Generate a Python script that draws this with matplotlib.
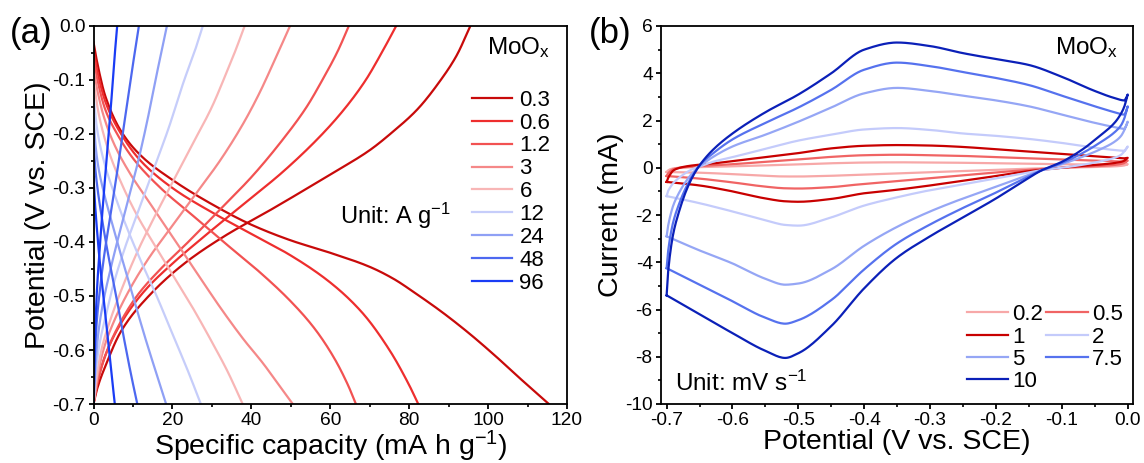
import numpy as np
import matplotlib
matplotlib.use("Agg")
import matplotlib.pyplot as plt
from matplotlib.ticker import MultipleLocator, FormatStrFormatter

plt.rcParams["font.family"] = ["Liberation Sans", "DejaVu Sans"]
plt.rcParams["mathtext.fontset"] = "custom"
plt.rcParams["mathtext.rm"] = "Liberation Sans"
plt.rcParams["mathtext.it"] = "Liberation Sans:italic"
plt.rcParams["axes.unicode_minus"] = False

# ---------------- (a) galvanostatic charge / discharge ----------------
gcd_rates = ["0.3", "0.6", "1.2", "3", "6", "12", "24", "48", "96"]
gcd_colors = ["#c80a0a", "#ee2e2e", "#f25252", "#f58888", "#f8b6b6",
              "#c6cdfa", "#8fa0f5", "#4d68f0", "#1a3cf5"]

# charge branches: capacity (mA h g-1) and potential (V vs. SCE)
chg_cap = [
    [0, 1, 3, 7, 14, 23, 33, 45, 52, 60, 70, 76, 82, 88, 92, 95.5],
    [0, 1, 3, 7, 13, 20, 28, 38, 48, 58, 64, 69, 73, 76.7],
    [0, 1, 3, 6, 11, 17, 24, 32, 40, 48, 54, 58, 62, 64.7],
    [0, 1, 2.5, 5, 9, 14, 20, 26, 32, 38, 42, 45.5, 49.8],
    [0, 0.8, 2, 4, 7, 11, 15, 20, 25, 30, 33.5, 36, 38.3],
    [0, 0.6, 1.5, 3, 5, 8, 11, 15, 19, 23, 25.5, 27.7],
    [0, 0.5, 1.2, 2.5, 4, 6, 8.5, 11, 13.5, 16, 18.6],
    [0, 0.3, 0.8, 1.6, 2.8, 4.3, 6, 7.8, 9.6, 11.5],
    [0, 0.3, 0.8, 1.5, 2.4, 3.4, 4.4, 5.2, 6.0],
]
chg_pot = [
    [-0.70, -0.67, -0.63, -0.565, -0.50, -0.44, -0.39, -0.34, -0.31, -0.275, -0.23, -0.195, -0.155, -0.10, -0.055, 0.0],
    [-0.70, -0.66, -0.61, -0.55, -0.49, -0.44, -0.39, -0.33, -0.27, -0.20, -0.15, -0.10, -0.05, 0.0],
    [-0.70, -0.66, -0.61, -0.56, -0.50, -0.45, -0.40, -0.34, -0.28, -0.21, -0.15, -0.10, -0.045, 0.0],
    [-0.70, -0.65, -0.60, -0.55, -0.49, -0.43, -0.37, -0.31, -0.25, -0.18, -0.125, -0.07, 0.0],
    [-0.70, -0.65, -0.60, -0.55, -0.49, -0.42, -0.36, -0.29, -0.22, -0.15, -0.09, -0.045, 0.0],
    [-0.70, -0.64, -0.59, -0.54, -0.48, -0.41, -0.35, -0.27, -0.19, -0.10, -0.05, 0.0],
    [-0.70, -0.63, -0.57, -0.51, -0.46, -0.40, -0.33, -0.26, -0.18, -0.09, 0.0],
    [-0.70, -0.62, -0.55, -0.49, -0.42, -0.35, -0.27, -0.18, -0.09, 0.0],
    [-0.70, -0.60, -0.50, -0.42, -0.33, -0.24, -0.15, -0.07, 0.0],
]

# discharge branches
dis_cap = [
    [0, 1, 3, 7, 12, 20, 30, 40, 50, 60, 70, 76, 82, 88, 95, 102, 108, 115.4],
    [0, 1, 3, 7, 12, 20, 30, 40, 50, 60, 68, 75, 80, 82.3],
    [0, 1, 3, 6, 10, 17, 25, 33, 42, 50, 56, 61, 64.5, 66.5],
    [0, 1, 2.5, 5, 9, 14, 20, 26, 32, 38, 43, 47, 50.5],
    [0, 1, 2, 4, 7, 11, 15, 20, 25, 30, 34, 37.8],
    [0, 0.7, 1.5, 3, 5, 8, 12, 16, 20, 24, 27.2],
    [0, 0.5, 1.2, 2.5, 4.5, 7, 10, 13, 16, 18.4],
    [0, 0.4, 1, 2, 3.5, 5.5, 7.5, 9.5, 11.1],
    [0, 0.3, 0.8, 1.5, 2.5, 3.5, 4.5, 5.4],
]
dis_pot = [
    [-0.03, -0.07, -0.13, -0.195, -0.24, -0.285, -0.33, -0.368, -0.397, -0.42, -0.446, -0.468, -0.497, -0.528, -0.568, -0.612, -0.652, -0.70],
    [-0.045, -0.085, -0.14, -0.20, -0.25, -0.30, -0.345, -0.385, -0.425, -0.475, -0.53, -0.60, -0.665, -0.70],
    [-0.06, -0.10, -0.155, -0.20, -0.245, -0.30, -0.35, -0.40, -0.455, -0.51, -0.56, -0.615, -0.665, -0.70],
    [-0.08, -0.12, -0.165, -0.215, -0.27, -0.325, -0.39, -0.455, -0.52, -0.58, -0.625, -0.665, -0.70],
    [-0.10, -0.15, -0.185, -0.235, -0.29, -0.35, -0.40, -0.46, -0.52, -0.585, -0.64, -0.70],
    [-0.13, -0.18, -0.215, -0.26, -0.305, -0.365, -0.435, -0.50, -0.57, -0.64, -0.70],
    [-0.17, -0.22, -0.26, -0.305, -0.36, -0.425, -0.50, -0.575, -0.645, -0.70],
    [-0.22, -0.26, -0.30, -0.35, -0.415, -0.49, -0.57, -0.645, -0.70],
    [-0.28, -0.32, -0.37, -0.43, -0.50, -0.57, -0.64, -0.70],
]

# ---------------- (b) cyclic voltammetry ----------------
cv_rates = ["0.2", "0.5", "1", "2", "5", "7.5", "10"]
cv_colors = ["#f7a8a8", "#f06464", "#c80000", "#c4cbfb",
             "#95a6f5", "#5672ee", "#0b20b8"]

cv_e_up = [-0.700, -0.698, -0.695, -0.690, -0.680, -0.670, -0.660, -0.650,
           -0.630, -0.600, -0.550, -0.500, -0.450, -0.400, -0.350, -0.300,
           -0.250, -0.200, -0.150, -0.100, -0.050, -0.020, -0.005, 0.000]
cv_e_down = [0.000, -0.005, -0.010, -0.020, -0.040, -0.070, -0.100, -0.130,
             -0.160, -0.200, -0.250, -0.300, -0.350, -0.400, -0.450, -0.500,
             -0.520, -0.550, -0.600, -0.650, -0.700]

# anodic (forward) currents, mA
cv_i_up = [
    [-0.18, -0.12, -0.07, -0.03, 0.0, 0.01, 0.02, 0.03, 0.04, 0.06, 0.10, 0.14,
     0.19, 0.22, 0.23, 0.22, 0.21, 0.19, 0.17, 0.15, 0.13, 0.12, 0.12, 0.15],
    [-0.35, -0.25, -0.16, -0.06, 0.0, 0.03, 0.05, 0.07, 0.10, 0.15, 0.25, 0.35,
     0.46, 0.53, 0.55, 0.53, 0.50, 0.45, 0.40, 0.35, 0.30, 0.27, 0.26, 0.30],
    [-0.60, -0.45, -0.30, -0.12, 0.0, 0.06, 0.10, 0.13, 0.18, 0.28, 0.45, 0.62,
     0.82, 0.93, 0.96, 0.94, 0.88, 0.78, 0.68, 0.58, 0.48, 0.42, 0.40, 0.42],
    [-1.20, -1.00, -0.85, -0.65, -0.40, -0.20, -0.05, 0.05, 0.25, 0.45, 0.80, 1.15,
     1.40, 1.62, 1.68, 1.60, 1.45, 1.35, 1.22, 1.05, 0.85, 0.75, 0.72, 0.90],
    [-2.90, -2.50, -2.10, -1.60, -1.00, -0.55, -0.20, 0.05, 0.45, 0.90, 1.40, 1.95,
     2.55, 3.15, 3.38, 3.25, 3.05, 2.85, 2.60, 2.25, 1.90, 1.72, 1.65, 1.95],
    [-4.25, -3.60, -3.00, -2.30, -1.45, -0.80, -0.30, 0.10, 0.60, 1.20, 1.90, 2.55,
     3.30, 4.15, 4.45, 4.30, 4.05, 3.80, 3.50, 3.05, 2.60, 2.35, 2.25, 2.60],
    [-5.40, -4.50, -3.70, -2.80, -1.75, -0.95, -0.35, 0.10, 0.75, 1.45, 2.35, 3.10,
     4.00, 5.00, 5.30, 5.15, 4.85, 4.60, 4.35, 3.85, 3.25, 2.95, 2.85, 3.10],
]
# cathodic (reverse) currents, mA
cv_i_down = [
    [0.15, 0.10, 0.08, 0.06, 0.04, 0.02, 0.0, -0.02, -0.05, -0.09, -0.14, -0.19,
     -0.24, -0.29, -0.34, -0.37, -0.37, -0.34, -0.27, -0.21, -0.18],
    [0.30, 0.20, 0.16, 0.12, 0.08, 0.04, 0.0, -0.05, -0.11, -0.20, -0.32, -0.44,
     -0.56, -0.68, -0.82, -0.88, -0.87, -0.80, -0.62, -0.46, -0.35],
    [0.42, 0.30, 0.25, 0.20, 0.14, 0.08, 0.0, -0.08, -0.18, -0.35, -0.55, -0.75,
     -0.93, -1.08, -1.32, -1.44, -1.42, -1.30, -1.00, -0.75, -0.60],
    [0.90, 0.70, 0.55, 0.42, 0.28, 0.12, 0.0, -0.10, -0.25, -0.45, -0.70, -0.95,
     -1.25, -1.60, -2.10, -2.45, -2.42, -2.22, -1.85, -1.50, -1.20],
    [1.95, 1.60, 1.35, 1.10, 0.80, 0.45, 0.15, -0.10, -0.40, -0.80, -1.30, -1.85,
     -2.50, -3.30, -4.30, -4.90, -4.95, -4.70, -4.05, -3.50, -2.90],
    [2.60, 2.10, 1.80, 1.50, 1.10, 0.60, 0.20, -0.10, -0.50, -1.05, -1.70, -2.40,
     -3.20, -4.30, -5.60, -6.45, -6.60, -6.35, -5.65, -4.95, -4.25],
    [3.10, 2.60, 2.30, 1.90, 1.40, 0.75, 0.25, -0.10, -0.60, -1.30, -2.10, -2.90,
     -3.80, -5.10, -6.70, -7.85, -8.05, -7.75, -7.00, -6.20, -5.40],
]


def pchip(x, y, xs):
    """Shape-preserving piecewise cubic through (x, y), x increasing."""
    x = np.asarray(x, float)
    y = np.asarray(y, float)
    h = np.diff(x)
    d = np.diff(y) / h
    m = np.zeros_like(y)
    m[0], m[-1] = d[0], d[-1]
    for k in range(1, len(x) - 1):
        if d[k - 1] * d[k] > 0:
            w1 = 2 * h[k] + h[k - 1]
            w2 = h[k] + 2 * h[k - 1]
            m[k] = (w1 + w2) / (w1 / d[k - 1] + w2 / d[k])
    idx = np.clip(np.searchsorted(x, xs) - 1, 0, len(x) - 2)
    t = (xs - x[idx]) / h[idx]
    h00 = 2 * t**3 - 3 * t**2 + 1
    h10 = t**3 - 2 * t**2 + t
    h01 = -2 * t**3 + 3 * t**2
    h11 = t**3 - t**2
    return (h00 * y[idx] + h10 * h[idx] * m[idx]
            + h01 * y[idx + 1] + h11 * h[idx] * m[idx + 1])


def smooth(x, y, n=300):
    x = np.asarray(x, float)
    y = np.asarray(y, float)
    if x[0] > x[-1]:
        x, y = x[::-1], y[::-1]
        xs = np.linspace(x[0], x[-1], n)
        return xs[::-1], pchip(x, y, xs)[::-1]
    xs = np.linspace(x[0], x[-1], n)
    return xs, pchip(x, y, xs)


fig = plt.figure(figsize=(11.44, 4.63), dpi=100)
W, H = 1144.0, 463.0
axA = fig.add_axes([93.5 / W, 1 - 404 / H, (567 - 93.5) / W, 378 / H])
axB = fig.add_axes([660.7 / W, 1 - 404 / H, (1133.3 - 660.7) / W, 378 / H])

LW = 1.6
TICK_FS = 13.8
LABEL_FS = 20.5

# ---- panel (a)
handles_a = []
for i, rate in enumerate(gcd_rates):
    cx, cy = smooth(chg_cap[i], chg_pot[i])
    dx, dy = smooth(dis_cap[i], dis_pot[i])
    axA.plot(cx, cy, color=gcd_colors[i], lw=LW)
    ln, = axA.plot(dx, dy, color=gcd_colors[i], lw=LW, label=rate)
    handles_a.append(ln)

axA.set_xlim(0, 120)
axA.set_ylim(-0.7, 0.0)
axA.xaxis.set_major_locator(MultipleLocator(20))
axA.xaxis.set_minor_locator(MultipleLocator(10))
axA.yaxis.set_major_locator(MultipleLocator(0.1))
axA.yaxis.set_minor_locator(MultipleLocator(0.05))
axA.xaxis.set_major_formatter(FormatStrFormatter("%d"))
axA.yaxis.set_major_formatter(FormatStrFormatter("%.1f"))
axA.set_xlabel("Specific capacity (mA h g$^{\\mathregular{-1}}$)",
               fontsize=LABEL_FS, labelpad=0)
axA.set_ylabel("Potential (V vs. SCE)", fontsize=LABEL_FS, labelpad=1)

axA.legend(handles=handles_a, loc="upper left", bbox_to_anchor=(0.7987, 0.8315),
           frameon=False, fontsize=16, handlelength=1.8, handletextpad=0.35,
           labelspacing=0.085, borderpad=0, borderaxespad=0)
axA.text(0.964, 0.942, "MoO$_{\\mathregular{x}}$", transform=axA.transAxes,
         ha="right", va="center", fontsize=17.5)
axA.text(0.5206, 0.497, "Unit: A g$^{\\mathregular{-1}}$", transform=axA.transAxes,
         ha="left", va="center", fontsize=17)

# ---- panel (b)
handles_b = []
for i, rate in enumerate(cv_rates):
    ux, uy = smooth(cv_e_up, cv_i_up[i])
    lx, ly = smooth(cv_e_down, cv_i_down[i])
    ex = np.concatenate([ux, lx])
    iy = np.concatenate([uy, ly])
    ln, = axB.plot(ex, iy, color=cv_colors[i], lw=LW, label=rate)
    handles_b.append(ln)

axB.set_xlim(-0.709, 0.0085)
axB.set_ylim(-10, 6)
axB.xaxis.set_major_locator(MultipleLocator(0.1))
axB.xaxis.set_minor_locator(MultipleLocator(0.05))
axB.yaxis.set_major_locator(MultipleLocator(2))
axB.yaxis.set_minor_locator(MultipleLocator(1))
axB.xaxis.set_major_formatter(FormatStrFormatter("%.1f"))
axB.yaxis.set_major_formatter(FormatStrFormatter("%d"))
axB.set_xlabel("Potential (V vs. SCE)", fontsize=LABEL_FS, labelpad=0)
axB.set_ylabel("Current (mA)", fontsize=LABEL_FS, labelpad=1)

# legend filled row by row: 0.2 0.5 / 1 2 / 5 7.5 / 10
order = [0, 2, 4, 6, 1, 3, 5]
axB.legend(handles=[handles_b[k] for k in order], loc="upper left", ncol=2,
           bbox_to_anchor=(0.6475, 0.264), frameon=False, fontsize=16,
           handlelength=1.85, handletextpad=0.2, columnspacing=0.15,
           labelspacing=0.06, borderpad=0, borderaxespad=0)
axB.text(0.9676, 0.942, "MoO$_{\\mathregular{x}}$", transform=axB.transAxes,
         ha="right", va="center", fontsize=17.5)
axB.text(0.030, 0.0556, "Unit: mV s$^{\\mathregular{-1}}$", transform=axB.transAxes,
         ha="left", va="center", fontsize=17.5)

for ax in (axA, axB):
    for s in ax.spines.values():
        s.set_linewidth(1.3)
    ax.tick_params(which="major", direction="out", length=3.8, width=1.3,
                   labelsize=TICK_FS, pad=2)
    ax.tick_params(which="minor", direction="out", length=2.3, width=1.2)

fig.text(10 / W, 1 - 33 / H, "(a)", fontsize=25, ha="left", va="center")
fig.text(589 / W, 1 - 33 / H, "(b)", fontsize=25, ha="left", va="center")

fig.savefig("out.png", dpi=100)
